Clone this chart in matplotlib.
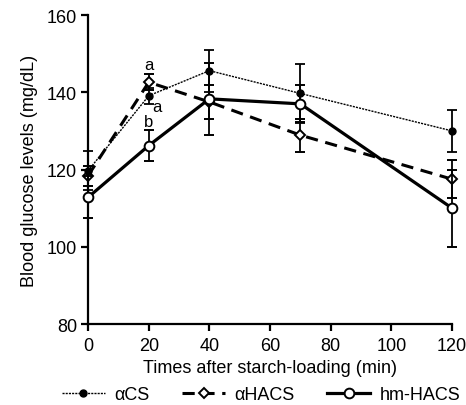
import matplotlib.pyplot as plt
from matplotlib.lines import Line2D

plt.rcParams['font.family'] = ['Liberation Sans', 'DejaVu Sans']

t = [0, 20, 40, 70, 120]

cs_mean = [119.7, 139.1, 145.6, 139.7, 130.0]
cs_err = [5.0, 2.1, 5.4, 7.6, 5.5]

hacs_mean = [118.4, 142.6, 137.5, 128.9, 117.5]
hacs_err = [2.6, 2.1, 4.5, 4.3, 5.0]

hm_mean = [112.8, 126.2, 138.3, 137.0, 110.0]
hm_err = [5.4, 4.0, 9.4, 4.8, 10.0]

labels = ["αCS", "αHACS", "hm-HACS"]

cs_style = dict(color="black", lw=1.0, ls=(0, (1.5, 0.8)), marker="o", ms=5,
                mfc="black", mec="black")
hacs_style = dict(color="black", lw=2.2, ls=(0, (4, 2.5)), marker="D", ms=5.5,
                  mfc="white", mec="black", mew=1.4)
hm_style = dict(color="black", lw=2.3, ls="-", marker="o", ms=7,
                mfc="white", mec="black", mew=1.4)

fig = plt.figure(figsize=(4.66, 4.06), dpi=100)
ax = fig.add_axes([0.189, 0.1995, 0.781, 0.761])

err_kw = dict(capsize=3.5, elinewidth=1.3, capthick=1.3, clip_on=False)
ax.errorbar(t, cs_mean, yerr=cs_err, zorder=4, **cs_style, **err_kw)
ax.errorbar(t, hacs_mean, yerr=hacs_err, zorder=3, **hacs_style, **err_kw)
ax.errorbar(t, hm_mean, yerr=hm_err, zorder=5, **hm_style, **err_kw)

ax.text(20, 145.3, "a", ha="center", va="bottom", fontsize=12)
ax.text(22.8, 136.4, "a", ha="center", va="center", fontsize=12)
ax.text(20, 130.5, "b", ha="center", va="bottom", fontsize=12)

ax.set_xlim(0, 120)
ax.set_ylim(80, 160)
ax.set_xticks([0, 20, 40, 60, 80, 100, 120])
ax.set_yticks([80, 100, 120, 140, 160])
ax.spines["top"].set_visible(False)
ax.spines["right"].set_visible(False)
ax.spines["left"].set_linewidth(1.6)
ax.spines["bottom"].set_linewidth(1.6)
ax.tick_params(direction="out", length=5, width=1.6, labelsize=13, pad=3)
ax.tick_params(axis="x", pad=4)
ax.set_xlabel("Times after starch-loading (min)", fontsize=13, labelpad=4)
ax.set_ylabel("Blood glucose levels (mg/dL)", fontsize=13, labelpad=6)

handles = [Line2D([], [], **cs_style), Line2D([], [], **hacs_style),
           Line2D([], [], **hm_style)]
fig.legend(handles, labels, loc="lower center", bbox_to_anchor=(0.56, -0.035), ncol=3,
           frameon=False, fontsize=13, handlelength=2.4, columnspacing=1.8,
           handletextpad=0.5)

fig.savefig("out.png", dpi=100)
